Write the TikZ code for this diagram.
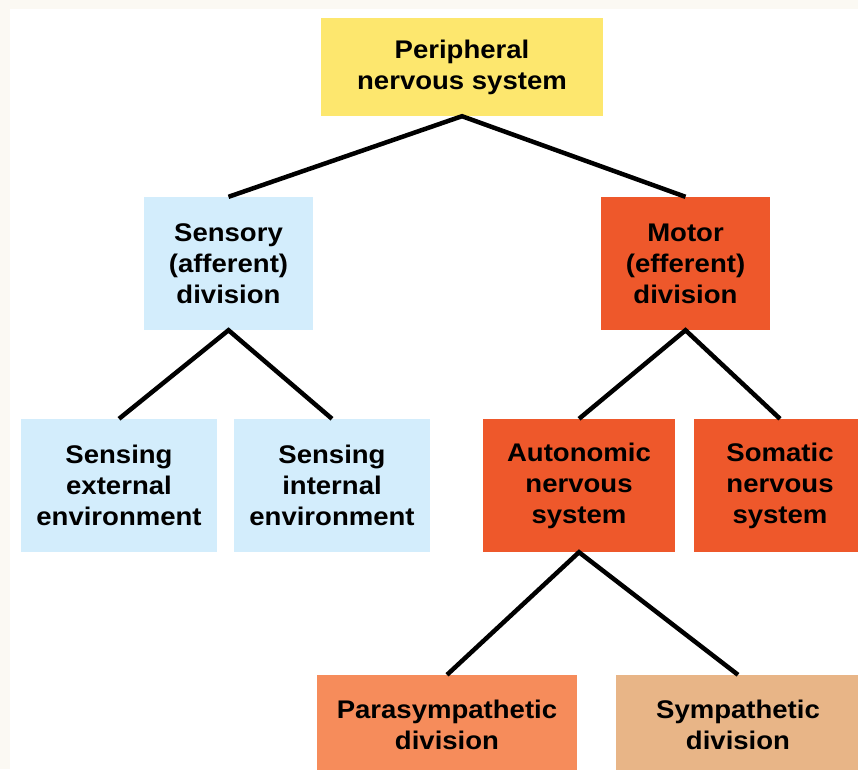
\documentclass[tikz,border=0pt]{standalone}
\usepackage{fontspec}
\setmainfont{Liberation Sans}[FakeStretch=1.08]
\definecolor{cream}{HTML}{FBF9F3}
\definecolor{ylw}{HTML}{FDE76E}
\definecolor{lblue}{HTML}{D3EDFC}
\definecolor{motred}{HTML}{EE582B}
\definecolor{salmon}{HTML}{F68C5B}
\definecolor{tan}{HTML}{E8B587}
\begin{document}
\begin{tikzpicture}[x=1pt,y=-1pt,
  box/.style={rectangle, inner sep=0pt, align=center,
    font=\fontsize{25.5}{31}\selectfont\bfseries, text=black},
  link/.style={line width=4.5pt, black, line join=miter}]
\fill[cream] (0,0) rectangle (858,769);
\fill[white] (10,9) rectangle (858,769);
\useasboundingbox (0,0) rectangle (858,769);
\node[box, fill=ylw, minimum width=282pt, minimum height=98pt] (per) at (462,67) {Peripheral\\nervous system};
\node[box, fill=lblue, minimum width=169pt, minimum height=133pt] (sen) at (228.5,263.5) {Sensory\\(afferent)\\division};
\node[box, fill=motred, minimum width=169pt, minimum height=133pt] (mot) at (685.5,263.5) {Motor\\(efferent)\\division};
\node[box, fill=lblue, minimum width=196pt, minimum height=133pt] (ext) at (119,485.5) {Sensing\\external\\environment};
\node[box, fill=lblue, minimum width=196pt, minimum height=133pt] (int) at (332,485.5) {Sensing\\internal\\environment};
\node[box, fill=motred, minimum width=192pt, minimum height=133pt] (aut) at (579,485.5) {Autonomic\\nervous\\system};
\node[box, fill=motred, minimum width=172pt, minimum height=133pt] (som) at (780,485.5) {Somatic\\nervous\\system};
\node[box, fill=salmon, minimum width=260pt, minimum height=100pt] (para) at (447,725) {Parasympathetic\\division};
\node[box, fill=tan, minimum width=244pt, minimum height=100pt] (sym) at (738,725) {Sympathetic\\division};
\draw[link] (sen.north) -- (per.south) -- (mot.north);
\draw[link] (ext.north) -- (sen.south) -- (int.north);
\draw[link] (aut.north) -- (mot.south) -- (som.north);
\draw[link] (para.north) -- (aut.south) -- (sym.north);
\end{tikzpicture}
\end{document}
